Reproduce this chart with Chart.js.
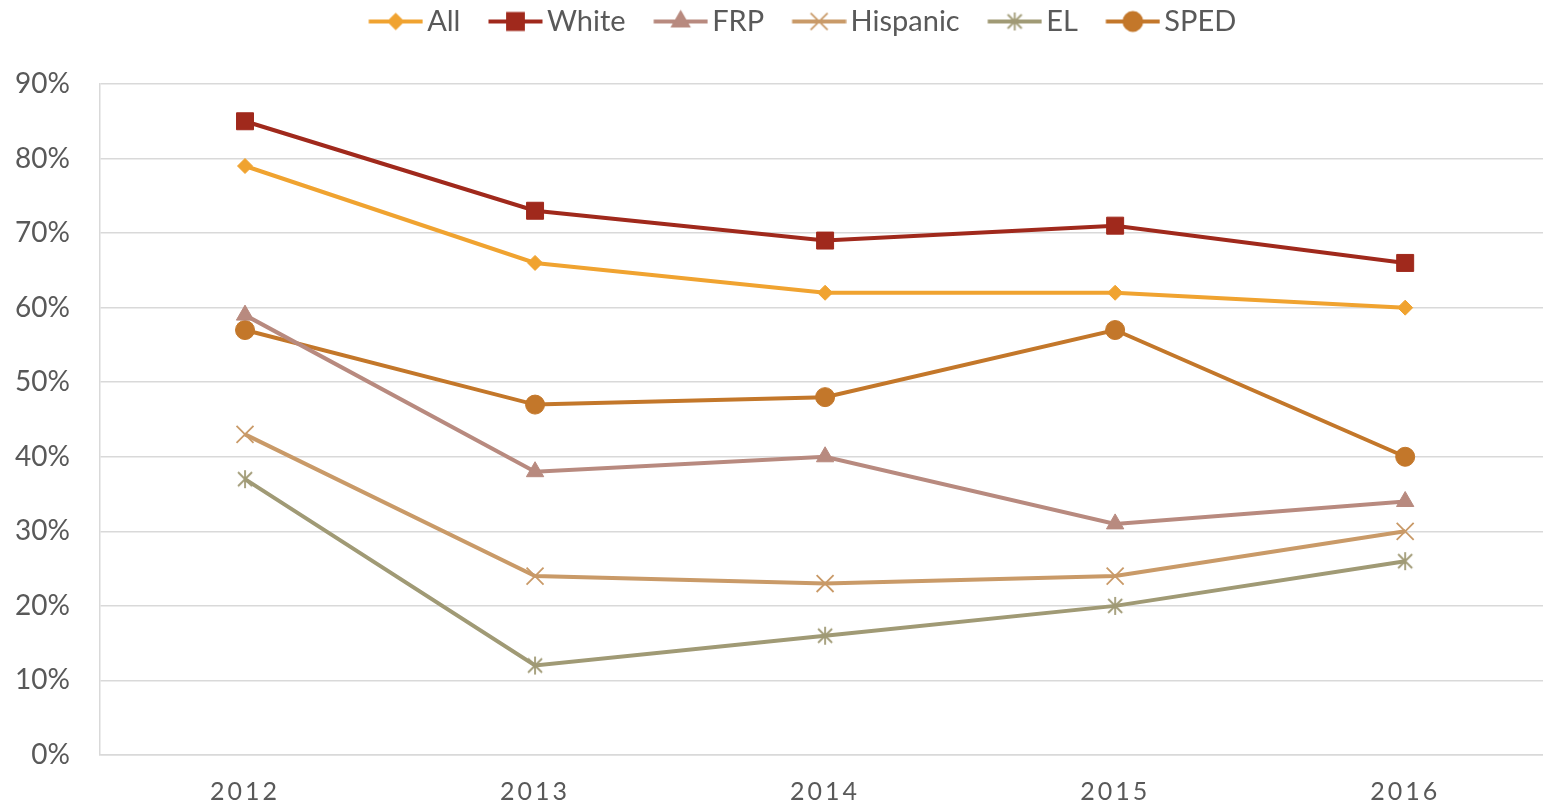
<!DOCTYPE html>
<html lang="en">
<head>
  <meta charset="UTF-8">
  <title>Rates by group, 2012-2016</title>
  <script src="https://cdn.jsdelivr.net/npm/chart.js"></script>
  <style>
    body {
      margin: 0;
      background: #fff;
      overflow: hidden;
    }
    #chart {
      display: block;
    }
  </style>
</head>
<body>
<canvas id="chart" width="1564" height="806"></canvas>

<script>
  const years = ['2012', '2013', '2014', '2015', '2016'];
  const yTicks = [0, 10, 20, 30, 40, 50, 60, 70, 80, 90];

  const allStudents = [79, 66, 62, 62, 60];
  const white = [85, 73, 69, 71, 66];
  const frp = [59, 38, 40, 31, 34];
  const hispanic = [43, 24, 23, 24, 30];
  const el = [37, 12, 16, 20, 26];
  const sped = [57, 47, 48, 57, 40];

  const FONT = 'Lato, "Open Sans", sans-serif';
  const TXT = '#595959';

  // asterisk marker for EL (x with a vertical bar)
  function asterisk(color) {
    const c = document.createElement('canvas');
    c.width = 20;
    c.height = 20;
    const ctx = c.getContext('2d');
    ctx.strokeStyle = color;
    ctx.lineWidth = 1.8;
    ctx.beginPath();
    ctx.moveTo(10, 1); ctx.lineTo(10, 19);
    ctx.moveTo(3, 3); ctx.lineTo(17, 17);
    ctx.moveTo(17, 3); ctx.lineTo(3, 17);
    ctx.stroke();
    return c;
  }

  // legend swatch: line with marker, shifted so the text sits right after it
  function swatch(color, style, r) {
    const c = document.createElement('canvas');
    c.width = 86;
    c.height = 26;
    const ctx = c.getContext('2d');
    ctx.strokeStyle = color;
    ctx.lineWidth = 4;
    ctx.beginPath();
    ctx.moveTo(31.5, 13);
    ctx.lineTo(85.5, 13);
    ctx.stroke();
    if (style instanceof HTMLCanvasElement) {
      ctx.drawImage(style, 58.5 - style.width / 2, 13 - style.height / 2);
      return c;
    }
    ctx.fillStyle = color;
    ctx.lineWidth = 1.8;
    Chart.helpers.drawPoint(ctx, { pointStyle: style, radius: r, rotation: 0, borderWidth: 1.8 }, 58.5, 13);
    if (style !== 'crossRot') ctx.fill();
    return c;
  }

  function series(label, data, color, style, r) {
    return {
      label,
      data,
      borderColor: color,
      backgroundColor: color,
      borderWidth: 4,
      pointStyle: style,
      pointRadius: r,
      pointBorderWidth: style === 'crossRot' ? 1.8 : 1,
      tension: 0,
      legendIcon: swatch(color, style, r)
    };
  }

  const tweaks = {
    id: 'tweaks',
    beforeLayout(chart) {
      const lg = chart.legend;
      if (lg && !lg._tall) {
        const fit = lg.fit.bind(lg);
        lg.fit = function () { fit(); this.height = 84; };
        lg._tall = true;
      }
    },
    afterLayout(chart) {
      // nudge the legend row a little to the right
      const lg = chart.legend;
      lg.left += 10;
      lg.right += 10;
    },
    afterUpdate(chart) {
      const xs = chart.scales.x;
      if (xs._spaced) return;
      const orig = xs.drawLabels.bind(xs);
      xs.drawLabels = function (area) {
        const ctx = this.ctx;
        ctx.save();
        ctx.letterSpacing = '3px';
        orig(area);
        ctx.restore();
      };
      xs._spaced = true;
    }
  };

  new Chart(document.getElementById('chart'), {
    type: 'line',
    data: {
      labels: years,
      datasets: [
        series('All', allStudents, '#F0A330', 'rectRot', 7.5),
        series('White', white, '#A0291C', 'rect', 12),
        series('FRP', frp, '#B88A7F', 'triangle', 10),
        series('Hispanic', hispanic, '#C99A68', 'crossRot', 12),
        series('EL', el, '#A09A75', asterisk('#A09A75'), 10),
        series('SPED', sped, '#C3772A', 'circle', 9.5)
      ]
    },
    options: {
      responsive: false,
      animation: false,
      devicePixelRatio: 1,
      layout: { padding: { top: 0, left: 0, right: 0, bottom: 0 } },
      plugins: {
        tooltip: { enabled: false },
        legend: {
          position: 'top',
          labels: {
            font: { family: FONT, size: 29 },
            color: TXT,
            usePointStyle: true,
            pointStyleWidth: 65,
            padding: 7,
            generateLabels(chart) {
              return chart.data.datasets.map((ds, i) => ({
                text: ds.label,
                pointStyle: ds.legendIcon,
                fillStyle: ds.borderColor,
                strokeStyle: ds.borderColor,
                lineWidth: 0,
                fontColor: TXT,
                datasetIndex: i,
                hidden: false
              }));
            }
          }
        }
      },
      scales: {
        x: {
          offset: true,
          grid: { display: false, drawTicks: false },
          border: { display: true, color: '#d9d9d9', width: 1.5 },
          ticks: { font: { family: FONT, size: 25 }, color: TXT, padding: 22 },
          afterFit(s) { s.height = 51; }
        },
        y: {
          min: 0,
          max: 90,
          afterBuildTicks(s) { s.ticks = yTicks.map(v => ({ value: v })); },
          grid: { color: '#d9d9d9', lineWidth: 1.5, drawTicks: false },
          border: { display: true, color: '#d9d9d9', width: 1.5 },
          ticks: {
            font: { family: FONT, size: 28 },
            color: TXT,
            padding: 30,
            callback: v => v + '%'
          },
          afterFit(s) { s.width = 100; }
        }
      }
    },
    plugins: [tweaks]
  });
</script>
</body>
</html>
